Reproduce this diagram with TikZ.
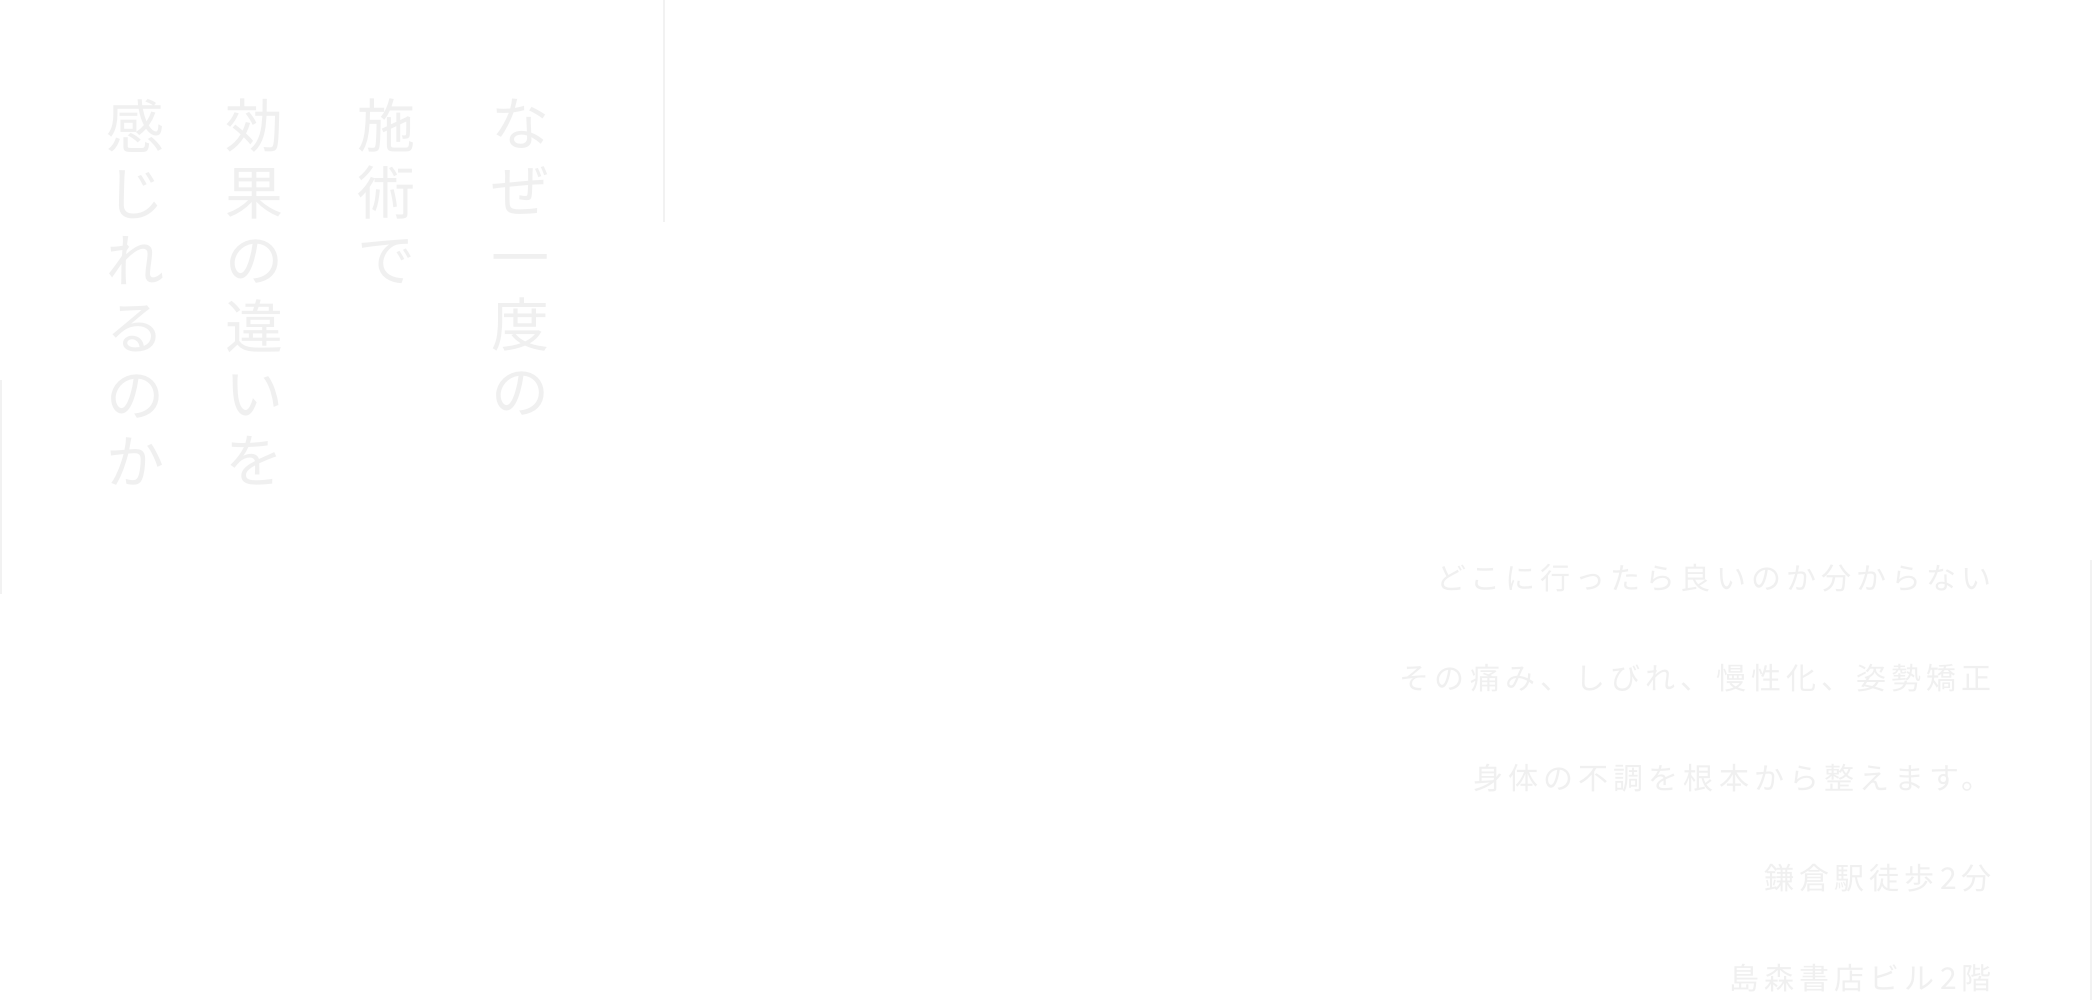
\documentclass[tikz,border=0pt]{standalone}
\usepackage{fontspec}
\newfontfamily\jp{Noto Sans CJK JP}
\definecolor{pale}{HTML}{F0F0F0}
\definecolor{paleline}{HTML}{F2F2F2}
\begin{document}
\begin{tikzpicture}[x=1pt,y=-1pt,
  title/.style={anchor=north,inner sep=0pt,align=center,text=pale,font=\jp\fontsize{58}{67}\selectfont},
  body/.style={anchor=east,inner sep=0pt,text=pale,font=\jp\fontsize{30}{30}\selectfont\addfontfeature{LetterSpace=17}},
  rule/.style={draw=paleline,line width=1.2pt}]
\useasboundingbox[fill=white] (0,0) rectangle (2092,1000);
\node[title] (c1) at (520,99) {な\\ぜ\\一\\度\\の};
\node[title] (c2) at (386,99) {施\\術\\で};
\node[title] (c3) at (254,99) {効\\果\\の\\違\\い\\を};
\node[title] (c4) at (135,99) {感\\じ\\れ\\る\\の\\か};
\coordinate (l1a) at (664,0); \coordinate (l1b) at (664,222);
\draw[rule] (l1a) -- (l1b);
\coordinate (l2a) at (1,380); \coordinate (l2b) at (1,594);
\draw[rule] (l2a) -- (l2b);
\coordinate (l3a) at (2091,560); \coordinate (l3b) at (2091,1000);
\draw[rule] (l3a) -- (l3b);
\node[body] (t1) at (1992,578) {どこに行ったら良いのか分からない};
\node[body] (t2) at (1992,678) {その痛み、しびれ、慢性化、姿勢矯正};
\node[body] (t3) at (1992,778) {身体の不調を根本から整えます。};
\node[body] (t4) at (1992,878) {鎌倉駅徒歩2分};
\node[body] (t5) at (1992,978) {島森書店ビル2階};
\end{tikzpicture}
\end{document}
